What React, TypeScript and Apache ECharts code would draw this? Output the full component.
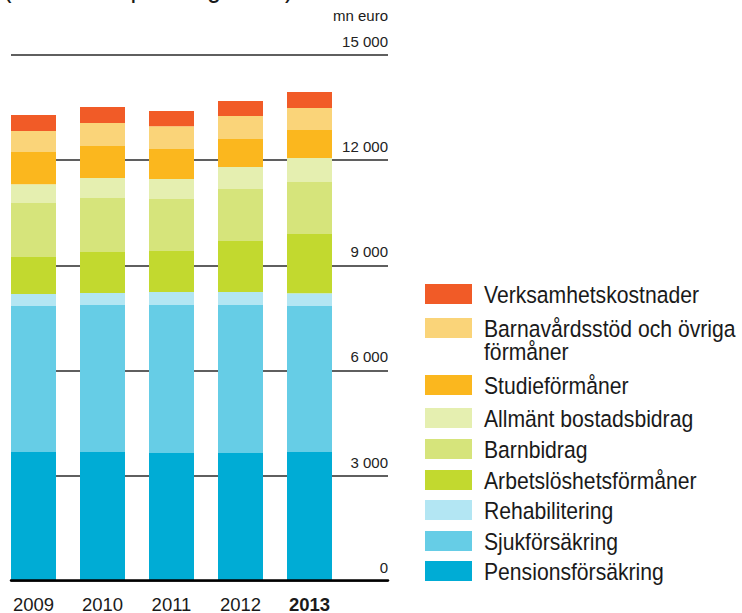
import React, { useEffect, useRef } from "react";
import * as echarts from "echarts";

// ---- data ----
const years = ["2009", "2010", "2011", "2012", "2013"];
const seriesNames = [
  "Pensionsförsäkring",
  "Sjukförsäkring",
  "Rehabilitering",
  "Arbetslöshetsförmåner",
  "Barnbidrag",
  "Allmänt bostadsbidrag",
  "Studieförmåner",
  "Barnavårdsstöd och övriga förmåner",
  "Verksamhetskostnader",
];
const pension = [3670, 3670, 3645, 3645, 3670];
const sjuk = [4165, 4195, 4220, 4220, 4165];
const rehab = [345, 345, 370, 370, 370];
const arbets = [1055, 1170, 1170, 1455, 1685];
const barnbidrag = [1540, 1540, 1485, 1485, 1485];
const bostads = [540, 570, 570, 630, 685];
const studie = [915, 915, 855, 800, 800];
const barnavard = [600, 655, 655, 655, 630];
const verks = [455, 455, 430, 430, 455];
const seriesValues = [pension, sjuk, rehab, arbets, barnbidrag, bostads, studie, barnavard, verks];
const yTicks = { min: 0, max: 15000, interval: 3000 };
const unitLabel = "mn euro";
const titleText = "(i 2013 års penningvärde)";

// ---- styles ----
const colors = [
  "#00ACD5",
  "#66CDE6",
  "#B3E6F3",
  "#C2D92F",
  "#D6E47B",
  "#E5EFB0",
  "#FBB71E",
  "#FAD479",
  "#F15B27",
];
const REG = "'Liberation Sans', Arial, sans-serif";
const legendLabels: Record<string, string> = {
  "Barnavårdsstöd och övriga förmåner": "Barnavårdsstöd och övriga\nförmåner",
};
const legendTops = [284, 318, 375, 408, 439, 470, 500, 531, 561];

export default function App() {
  const ref = useRef<HTMLDivElement>(null);
  useEffect(() => {
    if (!ref.current) return;
    const chart = echarts.init(ref.current, null, { renderer: "svg" });
    const gridTop = 55;
    const gridBottom = 32.3;

    const legendOrder = seriesNames.map((n, i) => i).reverse();
    const legendGraphics: any[] = [];
    legendOrder.forEach((si, row) => {
      const top = legendTops[row];
      legendGraphics.push({
        type: "rect",
        shape: { x: 425, y: top, width: 47, height: 20 },
        style: { fill: colors[si] },
        silent: true,
      });
      legendGraphics.push({
        type: "text",
        x: 484,
        y: top,
        scaleX: 0.9,
        style: {
          text: legendLabels[seriesNames[si]] || seriesNames[si],
          font: `23.5px ${REG}`,
          fill: "#1a1a1a",
          lineHeight: 23,
          verticalAlign: "top",
          align: "left",
        },
        silent: true,
      });
    });

    const option: any = {
      animation: false,
      grid: [
        { left: -1, width: 345, top: gridTop, bottom: gridBottom, outerBoundsMode: "none", containLabel: false },
        { left: 11, width: 377, top: gridTop, bottom: gridBottom, outerBoundsMode: "none", containLabel: false },
      ],
      xAxis: [
        {
          type: "category",
          gridIndex: 0,
          data: years.map((y, i) =>
            i === years.length - 1 ? { value: y, textStyle: { fontWeight: "bold" } } : y
          ),
          axisLine: { show: false },
          axisTick: { show: false },
          axisLabel: {
            fontFamily: REG,
            fontSize: 18.5,
            lineHeight: 18.5,
            color: "#1a1a1a",
            margin: 15,
          },
        },
        {
          type: "value",
          gridIndex: 1,
          min: 0,
          max: 1,
          z: 5,
          axisLine: { show: true, onZero: false, lineStyle: { color: "#000", width: 2.5 } },
          axisTick: { show: false },
          axisLabel: { show: false },
          splitLine: { show: false },
        },
      ],
      yAxis: [
        {
          type: "value",
          gridIndex: 0,
          min: yTicks.min,
          max: yTicks.max,
          interval: yTicks.interval,
          show: false,
          splitLine: { show: false },
        },
        {
          type: "value",
          gridIndex: 1,
          position: "right",
          min: yTicks.min,
          max: yTicks.max,
          interval: yTicks.interval,
          axisLine: { show: false },
          axisTick: { show: false },
          axisLabel: {
            inside: true,
            margin: 0,
            fontFamily: REG,
            fontSize: 15,
            lineHeight: 15,
            color: "#222",
            align: "right",
            verticalAlign: "bottom",
            padding: [0, 0, 6, 0],
            formatter: (v: number) => String(v).replace(/\B(?=(\d{3})+(?!\d))/g, " "),
          },
          splitLine: { show: true, lineStyle: { color: "#2a2a2a", width: 1.5 } },
        },
      ],
      series: seriesNames.map((name, i) => ({
        name,
        type: "bar",
        stack: "total",
        xAxisIndex: 0,
        yAxisIndex: 0,
        barWidth: 45,
        data: seriesValues[i],
        itemStyle: { color: colors[i] },
        emphasis: { disabled: true },
      })),
      graphic: [
        {
          type: "text",
          x: 3,
          y: 1.8,
          scaleX: 0.85,
          style: {
            text: titleText,
            font: `30px ${REG}`,
            fill: "#1a1a1a",
            lineHeight: 30,
            verticalAlign: "bottom",
            align: "left",
          },
          silent: true,
        },
        {
          type: "text",
          x: 388,
          y: 23,
          style: {
            text: unitLabel,
            font: `15px ${REG}`,
            fill: "#1a1a1a",
            lineHeight: 15,
            verticalAlign: "bottom",
            align: "right",
          },
          silent: true,
        },
        ...legendGraphics,
      ],
    };
    chart.setOption(option);
    return () => chart.dispose();
  }, []);
  return (
    <div
      ref={ref}
      style={{ position: "absolute", left: 0, top: 0, width: 742, height: 613, background: "#fff" }}
    />
  );
}
